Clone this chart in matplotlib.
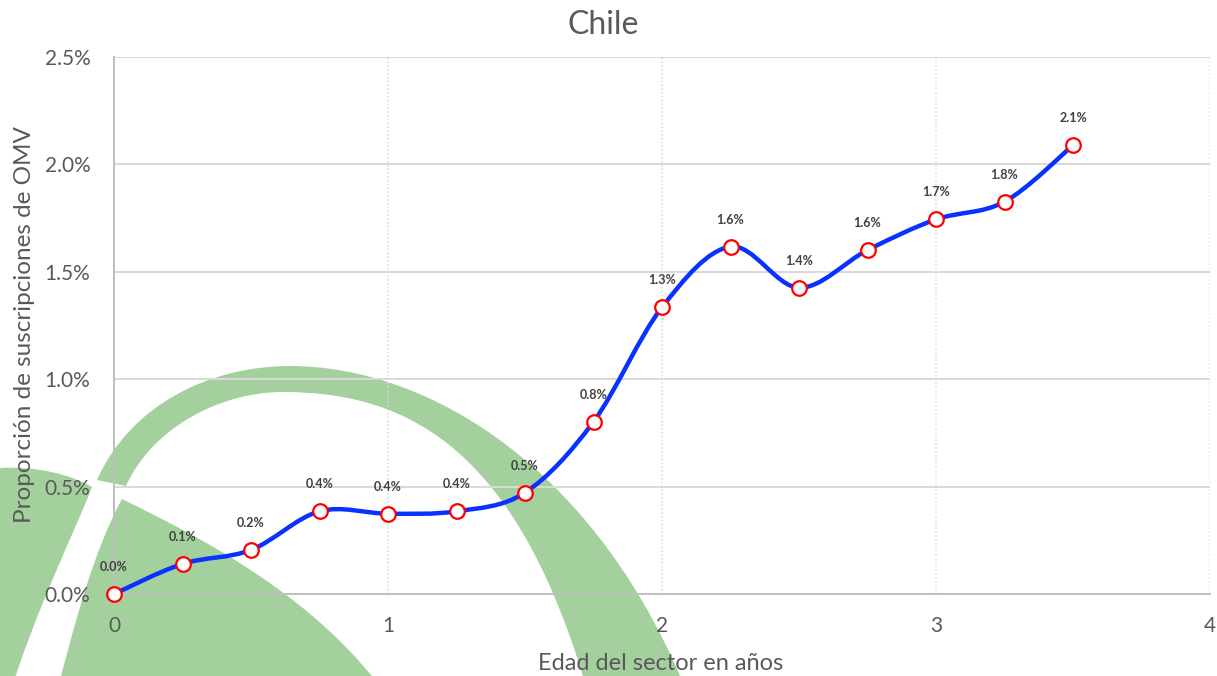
import numpy as np
import matplotlib
matplotlib.use("Agg")
import matplotlib.pyplot as plt
from matplotlib.path import Path
from matplotlib.patches import PathPatch
from matplotlib.ticker import FuncFormatter

plt.rcParams["font.family"] = ["Lato", "DejaVu Sans"]

TITLE = "Chile"
X_LABEL = "Edad del sector en años"
Y_LABEL = "Proporción de suscripciones de OMV"

# edad del sector (años) y proporción de suscripciones OMV (%)
edad = [0.0, 0.25, 0.5, 0.75, 1.0, 1.25, 1.5, 1.75, 2.0, 2.25, 2.5, 2.75, 3.0, 3.25, 3.5]
proporcion = [0.0, 0.140, 0.205, 0.385, 0.374, 0.385, 0.472, 0.802,
              1.335, 1.617, 1.426, 1.601, 1.744, 1.826, 2.089]
x_ticks = [0, 1, 2, 3, 4]
y_ticks = [0.0, 0.5, 1.0, 1.5, 2.0, 2.5]

GRIS_TEXTO = "#595959"
GRIS_GRID = "#d9d9d9"
VERDE = "#a4d09e"


def smooth_path(xs, ys, k=1.0 / 6.0):
    # curva suavizada tipo Excel: segmentos Bezier cúbicos entre puntos
    pts = np.column_stack([xs, ys]).astype(float)
    n = len(pts)
    verts = [pts[0]]
    codes = [Path.MOVETO]
    for i in range(n - 1):
        p0 = pts[max(i - 1, 0)]
        p1 = pts[i]
        p2 = pts[i + 1]
        p3 = pts[min(i + 2, n - 1)]
        verts += [p1 + (p2 - p0) * k, p2 - (p3 - p1) * k, p2]
        codes += [Path.CURVE4] * 3
    return Path(verts, codes)


def draw_watermark(fig):
    # logotipo de fondo en coordenadas de píxel
    bg = fig.add_axes([0, 0, 1, 1], zorder=0)
    bg.set_xlim(0, 1217)
    bg.set_ylim(676, 0)
    bg.axis("off")

    C4 = Path.CURVE4
    banda = Path(
        [(97, 480),
         (130, 405), (210, 366), (290, 366),
         (430, 366), (600, 470), (690, 700),
         (590, 700),
         (520, 450), (410, 392), (283, 392),
         (220, 392), (152, 428), (126, 486),
         (97, 480)],
        [Path.MOVETO, C4, C4, C4, C4, C4, C4, Path.LINETO,
         C4, C4, C4, C4, C4, C4, Path.CLOSEPOLY],
    )
    izquierda = Path(
        [(0, 468),
         (35, 466), (70, 474), (92, 487),
         (78, 525), (35, 610), (8, 700),
         (0, 700), (0, 468)],
        [Path.MOVETO, C4, C4, C4, C4, C4, C4, Path.LINETO, Path.CLOSEPOLY],
    )
    cuña = Path(
        [(122, 499),
         (210, 542), (320, 600), (390, 700),
         (55, 700),
         (75, 620), (95, 548), (122, 499),
         (122, 499)],
        [Path.MOVETO, C4, C4, C4, Path.LINETO, C4, C4, C4, Path.CLOSEPOLY],
    )
    for p in (banda, izquierda, cuña):
        bg.add_patch(PathPatch(p, facecolor=VERDE, edgecolor="none"))


fig = plt.figure(figsize=(12.17, 6.76), dpi=100, facecolor="white")
draw_watermark(fig)

ax = fig.add_axes([114 / 1217, 82 / 676, 1096 / 1217, 537 / 676], zorder=1)
ax.set_facecolor("none")
ax.set_xlim(0, 4)
ax.set_ylim(0, 2.5)

ax.set_xticks(x_ticks)
ax.set_yticks(y_ticks)
ax.yaxis.set_major_formatter(FuncFormatter(lambda v, _: f"{v:.1f}%"))
ax.tick_params(axis="both", length=0, labelsize=15, labelcolor=GRIS_TEXTO)
ax.tick_params(axis="x", pad=16)
ax.tick_params(axis="y", pad=17)

for y in y_ticks[1:]:
    ax.axhline(y, color=GRIS_GRID, lw=1.4, zorder=1)
for x in x_ticks[1:]:
    ax.axvline(x, color=GRIS_GRID, lw=1.1, ls=(0, (1, 1.5)), zorder=1)

for side in ("top", "right"):
    ax.spines[side].set_visible(False)
for side in ("left", "bottom"):
    ax.spines[side].set_color("#bfbfbf")
    ax.spines[side].set_linewidth(1.4)

ax.add_patch(PathPatch(smooth_path(edad, proporcion), facecolor="none",
                       edgecolor="#0a32ff", lw=3.2, zorder=3,
                       capstyle="round", clip_on=False))
ax.plot(edad, proporcion, ls="none", marker="o", ms=10.5,
        mfc="white", mec="#ff0000", mew=1.6, zorder=4, clip_on=False)

for x, v in zip(edad, proporcion):
    ax.annotate(f"{v:.1f}%", (x, v), xytext=(0, 19.5), textcoords="offset points",
                ha="center", va="center", fontsize=9, fontweight="bold",
                color="#404040", zorder=5)

fig.text(603 / 1217, 1 - 25 / 676, TITLE, ha="center", va="center",
         fontsize=23, color=GRIS_TEXTO)
fig.text(661 / 1217, 1 - 663 / 676, X_LABEL, ha="center", va="center",
         fontsize=17, color=GRIS_TEXTO)
fig.text(25 / 1217, 1 - 325 / 676, Y_LABEL, ha="center", va="center",
         rotation=90, fontsize=17.5, color=GRIS_TEXTO)

fig.savefig("out.png", dpi=100, facecolor="white")
